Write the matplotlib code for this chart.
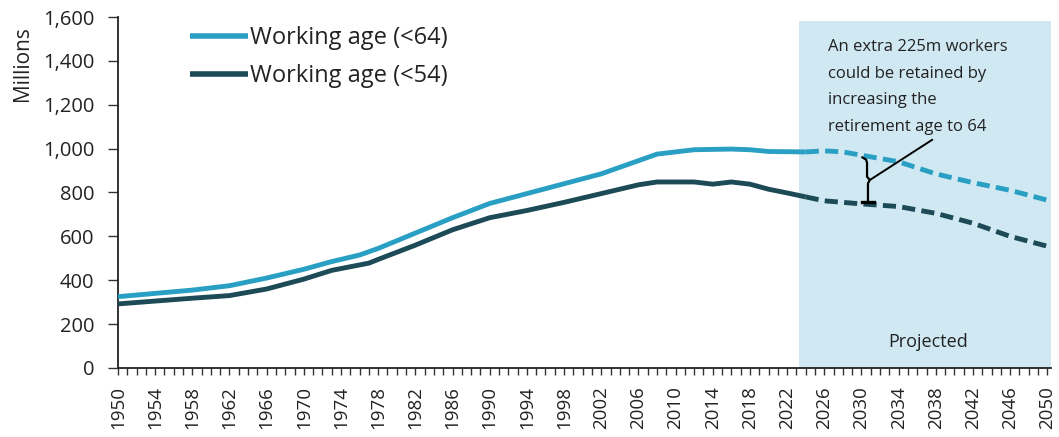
import matplotlib
matplotlib.use("Agg")
import matplotlib.pyplot as plt
import numpy as np

plt.rcParams['font.family'] = ['Open Sans', 'DejaVu Sans']

years_64 = [1950, 1954, 1958, 1962, 1966, 1970, 1973, 1976, 1978, 1982, 1986, 1990, 1994, 1998,
            2002, 2006, 2008, 2010, 2012, 2016, 2018, 2020, 2024, 2026, 2028, 2030, 2034, 2038,
            2042, 2046, 2050]
values_64 = [325, 340, 355, 375, 410, 450, 485, 515, 545, 615, 685, 750, 795, 840,
             885, 945, 975, 985, 995, 998, 995, 987, 985, 990, 985, 970, 940, 885,
             845, 810, 765]

years_54 = [1950, 1954, 1958, 1962, 1966, 1970, 1973, 1977, 1978, 1982, 1986, 1990, 1994, 1998,
            2002, 2006, 2008, 2012, 2014, 2016, 2018, 2020, 2022, 2024, 2026, 2030, 2034, 2038,
            2042, 2046, 2050]
values_54 = [292, 305, 318, 330, 360, 405, 445, 478, 495, 560, 630, 685, 718, 755,
             795, 835, 848, 848, 838, 848, 838, 815, 798, 780, 762, 748, 736, 705,
             660, 600, 555]

projection_start = 2024
label_years = list(range(1950, 2051, 4))
y_ticks = [0, 200, 400, 600, 800, 1000, 1200, 1400, 1600]

c64 = '#2a9fc4'
c54 = '#1c4a57'
txt = '#222222'

fig = plt.figure(figsize=(10.59, 4.37), dpi=100)
ax = fig.add_axes([0.1114, 0.158, 0.8811, 0.803])

ax.axvspan(2023.3, 2050.4, ymin=0, ymax=0.99, color='#cfe8f1', lw=0, zorder=0)

def split(yrs, vals):
    yrs = np.array(yrs, float); vals = np.array(vals, float)
    hist = yrs <= projection_start
    proj = yrs >= projection_start
    return yrs[hist], vals[hist], yrs[proj], vals[proj]

lw = 3.5
dash = (0, (2.7, 1.3))
h_x, h_y, p_x, p_y = split(years_64, values_64)
ax.plot(h_x, h_y, color=c64, lw=lw, solid_capstyle='butt', label='Working age (<64)', zorder=3)
ax.plot(p_x, p_y, color=c64, lw=lw, ls=dash, zorder=3)
h_x, h_y, p_x, p_y = split(years_54, values_54)
ax.plot(h_x, h_y, color=c54, lw=lw, solid_capstyle='butt', label='Working age (<54)', zorder=3)
ax.plot(p_x, p_y, color=c54, lw=lw, ls=dash, zorder=3)

ax.set_xlim(1950, 2050.4)
ax.set_ylim(0, 1600)
ax.set_yticks(y_ticks)
ax.set_yticklabels([f'{v:,}' for v in y_ticks], fontsize=14.5, color=txt)
ax.set_xticks(label_years)
ax.set_xticklabels([str(y) for y in label_years], rotation=90, fontsize=13.5, color=txt)
ax.set_xticks(range(1950, 2051), minor=True)
ax.tick_params(axis='x', which='both', direction='out', length=5, width=1, color='#333333', pad=8)
ax.tick_params(axis='y', direction='out', length=7, width=1, color='#333333', pad=10)
for s in ['top', 'right']:
    ax.spines[s].set_visible(False)
for s in ['left', 'bottom']:
    ax.spines[s].set_color('#222222')
    ax.spines[s].set_linewidth(1.3)

fig.text(22 / 1059, 1 - 64 / 437, 'Millions', rotation=90, fontsize=15, color=txt,
         ha='center', va='center')

leg = fig.legend(loc='upper left', bbox_to_anchor=(190 / 1059, 1 - 26 / 437), frameon=False,
                 fontsize=17, handlelength=2.45, handletextpad=0.1, labelspacing=0.6,
                 borderpad=0, borderaxespad=0)
for t in leg.get_texts():
    t.set_color(txt)
for h in leg.legend_handles:
    h.set_linewidth(4)

ax.text(2037.2, 118, 'Projected', fontsize=13, color=txt, ha='center', va='center')

ax.text(2026.4, 1500, 'An extra 225m workers\ncould be retained by\nincreasing the\nretirement age to 64',
        fontsize=12, color=txt, ha='left', va='top', linespacing=1.88)

# bracket
bx = 2030.6
ax.plot([bx - 0.5, bx - 0.1, bx, bx, bx + 0.3, bx + 0.1, bx + 0.1],
        [960, 950, 935, 872, 857, 842, 758], color='black', lw=1.6, zorder=4,
        solid_joinstyle='round')
ax.plot([bx - 0.5, bx + 0.8], [756, 756], color='black', lw=2.4, zorder=4)
ax.plot([bx + 0.3, bx + 7.0], [857, 1040], color='black', lw=1.4, zorder=4)

fig.savefig('out.png', dpi=100)
